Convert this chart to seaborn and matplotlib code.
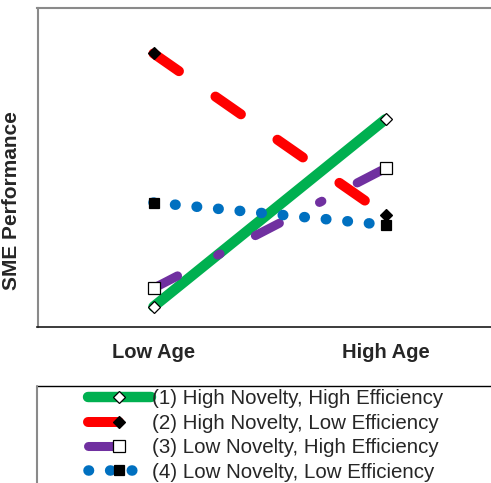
import matplotlib
matplotlib.use("Agg")
import matplotlib.pyplot as plt
from matplotlib.lines import Line2D
import pandas as pd
import seaborn as sns

# Data
ages = ["Low Age", "High Age"]
series_names = [
    "(1) High Novelty, High Efficiency",
    "(2) High Novelty, Low Efficiency",
    "(3) Low Novelty, High Efficiency",
    "(4) Low Novelty, Low Efficiency",
]
high_nov_high_eff = [0.51, 5.21]
high_nov_low_eff = [6.86, 2.81]
low_nov_high_eff = [0.97, 3.98]
low_nov_low_eff = [3.12, 2.56]
series_values = [high_nov_high_eff, high_nov_low_eff, low_nov_high_eff, low_nov_low_eff]

# Styling for each series (dash lengths are in units of line width)
styles = [
    dict(color="#00b050", lw=7.5, ls="-", marker="D", ms=6.0, mfc="white"),
    dict(color="#ff0000", lw=7.2, ls=(0, (3.1, 4.45)), marker="D", ms=6.0, mfc="black"),
    dict(color="#7030a0", lw=6.5, ls=(0, (3.0, 5.0, 0.3, 4.4)), marker="s", ms=8.0, mfc="white"),
    dict(color="#0070c0", lw=7.6, ls=(0, (0.05, 2.0)), marker="s", ms=7.5, mfc="black"),
]

sns.set_theme(style="white")
plt.rcParams["font.family"] = ["Liberation Sans", "DejaVu Sans"]

fig = plt.figure(figsize=(4.91, 4.83), dpi=100)
W, H = 491, 483
ax = fig.add_axes([37.5 / W, 1 - 327 / H, 464 / W, 319 / H])

for name, vals, st in zip(series_names, series_values, styles):
    df = pd.DataFrame({"Age": ages, "Performance": vals})
    sns.lineplot(
        data=df, x="Age", y="Performance", ax=ax, errorbar=None, sort=False,
        color=st["color"], linewidth=st["lw"], linestyle=st["ls"],
        marker=st["marker"], markersize=st["ms"], markerfacecolor=st["mfc"],
        markeredgecolor="black", markeredgewidth=0.9,
        dash_capstyle="round", solid_capstyle="round", legend=False,
    )

ax.set_xlim(-0.5, 1.5)
ax.set_ylim(0, 8)
ax.set_yticks([])
ax.set_xlabel("")
ax.set_ylabel("SME Performance", fontsize=15, fontweight="bold")
ax.yaxis.set_label_coords(-0.035, 0.395)
ax.tick_params(axis="x", length=0, pad=11.5, labelsize=14.5)
for lbl in ax.get_xticklabels():
    lbl.set_fontweight("bold")

for side in ("left", "top"):
    ax.spines[side].set_color("#8a8a8a")
    ax.spines[side].set_linewidth(1.5)
ax.spines["bottom"].set_color("#1a1a1a")
ax.spines["bottom"].set_linewidth(1.2)
ax.spines["right"].set_visible(False)

# Legend below the plot
fig.legend(
    handles=ax.lines, labels=series_names,
    loc="upper left", bbox_to_anchor=(88 / W, 1 - 389.5 / H),
    frameon=False, borderpad=0, borderaxespad=0,
    handlelength=3.05, handletextpad=0.05, labelspacing=0.26,
    fontsize=14.8,
)
# Legend box edges
fig.add_artist(Line2D([36.5 / W, 1.0], [1 - 386 / H, 1 - 386 / H],
                      transform=fig.transFigure, color="black", lw=1.0))
fig.add_artist(Line2D([36.5 / W, 36.5 / W], [1 - 386 / H, 0.0],
                      transform=fig.transFigure, color="#8a8a8a", lw=1.5))

fig.savefig("out.png", dpi=100)
